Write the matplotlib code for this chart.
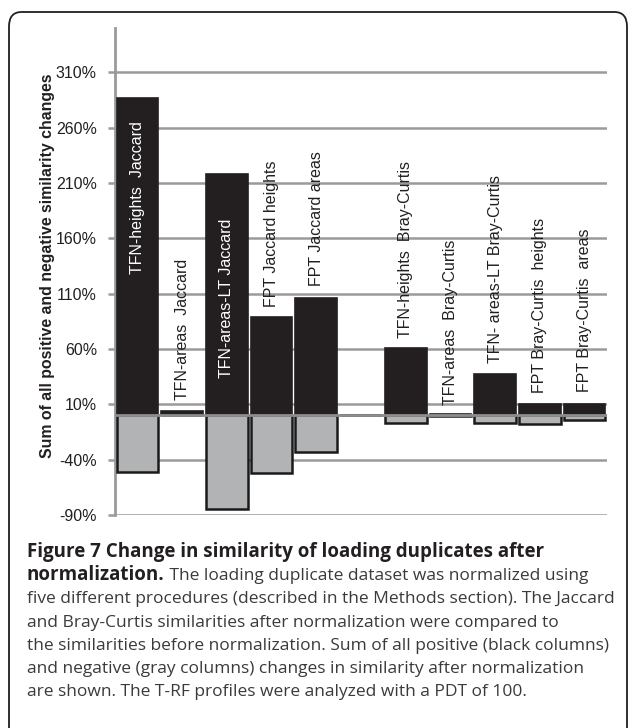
import matplotlib
matplotlib.use("Agg")
import numpy as np
import matplotlib.pyplot as plt
from matplotlib.patches import FancyBboxPatch

# data (percent)
labels = ["TFN-heights  Jaccard", "TFN-areas  Jaccard", "TFN-areas-LT Jaccard",
          "FPT Jaccard heights", "FPT Jaccard areas", "",
          "TFN-heights  Bray-Curtis", "TFN-areas  Bray-Curtis", "TFN- areas-LT Bray-Curtis",
          "FPT Bray-Curtis  heights", "FPT Bray-Curtis  areas"]
positive = [287, 4, 218, 89, 106, 0, 61, 1, 37, 10, 10]
negative = [-51, 0, -85, -52, -33, 0, -7, -1, -7, -8, -4]
yticks = [-90, -40, 10, 60, 110, 160, 210, 260, 310]

# where the rotated labels start (data units) and their colour
label_y = [128, 13.5, 34, 98, 117, 0, 70, 9, 47, 20, 21]
label_white = [True, False, True, False, False, False, False, False, False, False, False]

W, H = 629, 728
fig = plt.figure(figsize=(W / 100, H / 100), dpi=100)
renderer = fig.canvas.get_renderer()


def fit_size(s, target_px, **kw):
    # font size that makes string s target_px wide
    t = fig.text(0, 0, s, fontsize=10, **kw)
    w = t.get_window_extent(renderer).width
    t.remove()
    return 10 * target_px / w


sans = "Liberation Sans"
tick_fs = fit_size("310%", 41, family=sans)
lab_fs = fit_size(labels[0], 153, family=sans)
ylab_fs = fit_size("Sum of all positive and negative similarity changes", 385,
                   family=sans, weight="bold")

ax = fig.add_axes([115 / W, 1 - 515 / H, (607 - 115) / W, (515 - 28) / H])

x = np.arange(len(labels))
grid_c = "#9a9a9a"

for v in yticks:
    ax.axhline(v, color=grid_c, lw=1.8, zorder=1)

ax.bar(x, positive, width=0.93, color="#231f20", edgecolor="#231f20", lw=1.2, zorder=3)
ax.bar(x, negative, width=0.93, color="#b2b3b5", edgecolor="#1a1a1a", lw=1.8, zorder=3)
ax.axhline(0, color="#8e8e8e", lw=2, zorder=5)

for i, lab in enumerate(labels):
    if not lab:
        continue
    ax.text(x[i], label_y[i], lab, rotation=90, ha="center", va="bottom",
            fontsize=lab_fs, family=sans,
            color="white" if label_white[i] else "#231f20", zorder=6)

ax.set_xlim(-0.5, len(labels) - 0.5)
ax.set_ylim(-90, 350)
ax.set_yticks(yticks)
ax.set_yticklabels([f"{v}%" for v in yticks], fontsize=tick_fs, family=sans,
                   color="#231f20")
ax.set_xticks([])
ax.tick_params(axis="y", length=5, width=1.8, color=grid_c, pad=8)
for s in ["top", "right", "bottom"]:
    ax.spines[s].set_visible(False)
ax.spines["left"].set_color(grid_c)
ax.spines["left"].set_linewidth(2)

fig.text(48 / W, 1 - 266 / H, "Sum of all positive and negative similarity changes",
         rotation=90, ha="center", va="center", fontsize=ylab_fs, weight="bold",
         family=sans, color="#231f20")

# frame round the figure panel
box = FancyBboxPatch((9 / W, -0.05), (627 - 9) / W, 1 - 12 / H + 0.05,
                     boxstyle="round,pad=0,rounding_size=0.02", transform=fig.transFigure,
                     fill=False, edgecolor="#231f20", lw=1.3, clip_on=False)
fig.patches.append(box)

# caption
cap_font = "Open Sans"
cap_c = "#231f20"
reg_c = "#3a3a3a"
line1 = "Figure 7 Change in similarity of loading duplicates after"
rest = ["five different procedures (described in the Methods section). The Jaccard",
        "and Bray-Curtis similarities after normalization were compared to",
        "the similarities before normalization. Sum of all positive (black columns)",
        "and negative (gray columns) changes in similarity after normalization",
        "are shown. The T-RF profiles were analyzed with a PDT of 100."]
bold_fs = fit_size(line1, 518, family=cap_font, weight="bold")
reg_fs = min(fit_size(rest[0], 586, family=cap_font),
             fit_size(rest[2], 587, family=cap_font))

x0 = 27 / W
base0 = 557
step = 23.2
fig.text(x0, 1 - base0 / H, line1, fontsize=bold_fs, family=cap_font, weight="bold",
         color=cap_c, va="baseline")
t = fig.text(x0, 1 - (base0 + step) / H, "normalization.", fontsize=bold_fs,
             family=cap_font, weight="bold", color=cap_c, va="baseline")
bb = t.get_window_extent(renderer)
fig.text(bb.x1 / W, 1 - (base0 + step) / H, " The loading duplicate dataset was normalized using",
         fontsize=reg_fs, family=cap_font, color=reg_c, va="baseline")
for k, line in enumerate(rest):
    fig.text(x0, 1 - (base0 + step * (k + 2)) / H, line, fontsize=reg_fs,
             family=cap_font, color=reg_c, va="baseline")

fig.savefig("out.png", dpi=100)
